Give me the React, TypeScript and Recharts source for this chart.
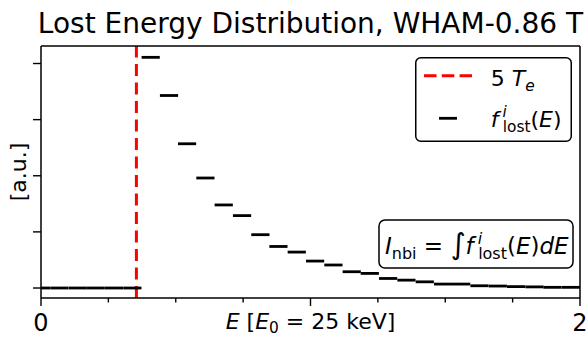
import React from "react";
import { ComposedChart, Scatter, XAxis, YAxis, ReferenceLine, Legend } from "recharts";

// bin centres, in units of E0 = 25 keV
const energy = [
  0, 0.068, 0.136, 0.203, 0.271, 0.339, 0.407, 0.475, 0.542, 0.61,
  0.678, 0.746, 0.814, 0.881, 0.949, 1.017, 1.085, 1.153, 1.22, 1.288,
  1.356, 1.424, 1.492, 1.559, 1.627, 1.695, 1.763, 1.831, 1.898, 1.966,
];
// lost-ion distribution per bin [a.u.]
const fLost = [
  0, 0, 0, 0, 0, 0, 4.11, 3.43, 2.57, 1.96,
  1.48, 1.29, 0.95, 0.74, 0.64, 0.48, 0.41, 0.29, 0.26, 0.17,
  0.14, 0.11, 0.07, 0.07, 0.04, 0.035, 0.025, 0.02, 0.012, 0.012,
];
const fiveTe = 0.354;

const xTicks = [0, 0.25, 0.5, 0.75, 1, 1.25, 1.5, 1.75, 2];
const xTickLabels: Record<string, string> = { "0": "0", "2": "2" };
const yTicks = [0, 1, 2, 3, 4];

const bins = energy.map((e, i) => ({ e, f: fLost[i] }));

const FONT = "DejaVu Sans";
const W = 588;
const H = 338;
const Y_DOMAIN: [number, number] = [-0.178, 4.312];

const BinMark = (props: any) => {
  const { cx, cy } = props;
  if (cx == null || cy == null) return null;
  return <line x1={cx - 9.1} x2={cx + 9.1} y1={cy} y2={cy} stroke="#000" strokeWidth={2.8} />;
};

const XTick = (props: any) => {
  const { x, y, payload } = props;
  const v = payload.value;
  const major = Number.isInteger(v);
  const label = xTickLabels[String(v)];
  return (
    <g>
      <line x1={x} x2={x} y1={y} y2={y + (major ? 8 : 4.5)} stroke="#000" strokeWidth={1.4} />
      {label && (
        <text x={x} y={y + 33} textAnchor="middle" fontFamily={FONT} fontSize={24} fill="#000">
          {label}
        </text>
      )}
    </g>
  );
};

const YTick = (props: any) => {
  const { x, y } = props;
  return <line x1={x - 8} x2={x} y1={y} y2={y} stroke="#000" strokeWidth={1.4} />;
};

const NoTick = () => <g />;

const LegendBox = () => (
  <svg width={157} height={85} style={{ display: "block", fontFamily: FONT }}>
    <rect x={0.75} y={0.75} width={155.5} height={83.5} rx={5} fill="#fff" stroke="#000" strokeWidth={1.5} />
    <line x1={9} x2={57} y1={18.7} y2={18.7} stroke="#ff0000" strokeWidth={3} strokeDasharray="12.5 5.3" />
    <text x={75.7} y={28.5} fontSize={22} fill="#000">
      5 <tspan fontStyle="italic">T</tspan>
      <tspan fontStyle="italic" fontSize={15.4} dy={5}>e</tspan>
    </text>
    <line x1={24} x2={42} y1={61.3} y2={61.3} stroke="#000" strokeWidth={2.8} />
    <text x={75.7} y={70} fontSize={22} fill="#000">
      <tspan fontStyle="italic">f</tspan>
      <tspan fontStyle="italic" fontSize={15.4} dx={4} dy={-10}>i</tspan>
      <tspan fontSize={15.4} dx={-4} dy={15}>lost</tspan>
      <tspan dy={-5}>(</tspan>
      <tspan fontStyle="italic">E</tspan>
      <tspan>)</tspan>
    </text>
  </svg>
);

export default function App() {
  return (
    <div style={{ position: "absolute", left: 0, top: 0, width: W, height: H, background: "#fff" }}>
      <ComposedChart
        width={W}
        height={H}
        data={bins}
        margin={{ top: 45, right: 7, bottom: 0, left: 0 }}
      >
        <XAxis
          dataKey="e"
          type="number"
          domain={[0, 2]}
          ticks={xTicks}
          allowDataOverflow
          height={40}
          tickSize={0}
          tickMargin={0}
          tickLine={false}
          tick={<XTick />}
          interval={0}
          stroke="#000"
          strokeWidth={1.5}
        />
        <XAxis
          xAxisId="top"
          orientation="top"
          type="number"
          domain={[0, 2]}
          allowDataOverflow
          height={1}
          tickLine={false}
          tick={<NoTick />}
          stroke="#000"
          strokeWidth={1.5}
        />
        <YAxis
          dataKey="f"
          type="number"
          domain={Y_DOMAIN}
          ticks={yTicks}
          allowDataOverflow
          width={41}
          tickSize={0}
          tickMargin={0}
          tickLine={false}
          tick={<YTick />}
          interval={0}
          stroke="#000"
          strokeWidth={1.5}
        />
        <YAxis
          yAxisId="right"
          orientation="right"
          type="number"
          domain={Y_DOMAIN}
          allowDataOverflow
          width={1}
          tickLine={false}
          tick={<NoTick />}
          stroke="#000"
          strokeWidth={1.5}
        />
        <ReferenceLine x={fiveTe} stroke="#ff0000" strokeWidth={3} strokeDasharray="12 6.5" />
        <Scatter data={bins} dataKey="f" shape={<BinMark />} isAnimationActive={false} />
        <Legend
          layout="vertical"
          align="center"
          verticalAlign="middle"
          content={() => <LegendBox />}
          wrapperStyle={{ position: "absolute", left: 415, top: 57, width: 157, height: 85 }}
        />
      </ComposedChart>
      <svg
        width={W}
        height={H}
        style={{ position: "absolute", left: 0, top: 0, pointerEvents: "none", fontFamily: FONT }}
      >
        <text x={310.5} y={33} textAnchor="middle" fontSize={28} fill="#000">
          Lost Energy Distribution, WHAM-0.86 T
        </text>
        <text x={310.5} y={329} textAnchor="middle" fontSize={22} fill="#000">
          <tspan fontStyle="italic">E</tspan> [<tspan fontStyle="italic">E</tspan>
          <tspan fontSize={15.4} dy={4}>0</tspan>
          <tspan dy={-4}> = 25 keV]</tspan>
        </text>
        <text x={26} y={172} textAnchor="middle" fontSize={22} fill="#000" transform="rotate(-90 26 172)">
          [a.u.]
        </text>
        <rect x={379} y={220} width={194} height={48} rx={6} fill="#fff" stroke="#000" strokeWidth={1.5} />
        <text x={385} y={254} fontSize={23} fill="#000">
          <tspan fontStyle="italic">I</tspan>
          <tspan fontSize={16} dy={5}>nbi</tspan>
          <tspan dy={-5}> = </tspan>
          <tspan fontSize={29}>∫</tspan>
          <tspan fontStyle="italic">f</tspan>
          <tspan fontStyle="italic" fontSize={16} dx={4} dy={-10}>i</tspan>
          <tspan fontSize={16} dx={-4} dy={15}>lost</tspan>
          <tspan dy={-5}>(</tspan>
          <tspan fontStyle="italic">E</tspan>
          <tspan>)</tspan>
          <tspan fontStyle="italic">dE</tspan>
        </text>
      </svg>
    </div>
  );
}
